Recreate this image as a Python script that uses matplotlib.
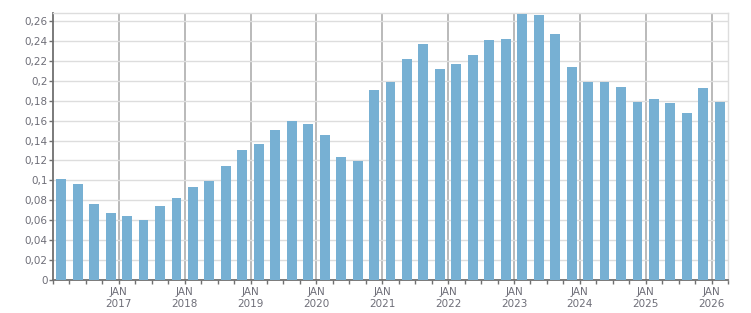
import matplotlib
matplotlib.use("Agg")
import matplotlib.pyplot as plt
import numpy as np
from matplotlib.ticker import FuncFormatter, MultipleLocator

# quarterly values, Q1 2016 .. Q1 2026
quarters = ["{}Q{}".format(y, q) for y in range(2016, 2027) for q in range(1, 5)][:41]
values = [0.101, 0.096, 0.076, 0.067, 0.064, 0.060, 0.074, 0.082,
          0.093, 0.099, 0.114, 0.130, 0.137, 0.151, 0.160, 0.157,
          0.146, 0.123, 0.119, 0.191, 0.199, 0.222, 0.237, 0.212,
          0.217, 0.226, 0.241, 0.242, 0.267, 0.266, 0.247, 0.214,
          0.199, 0.199, 0.194, 0.179, 0.182, 0.178, 0.168, 0.193,
          0.179]
years = list(range(2017, 2027))
yticks = [i * 0.02 for i in range(14)]

text_col = "#6e6e78"
bar_col = "#77b0d3"

fig = plt.figure(figsize=(7.51, 3.13), dpi=100)
ax = fig.add_axes([53 / 751, 1 - 280 / 313, (728 - 53) / 751, (280 - 13) / 313])

x = np.arange(len(values)) + 0.5
ax.bar(x, values, width=0.6, color=bar_col, zorder=3)

ax.set_xlim(0, len(values))
ax.set_ylim(0, 0.268)

ax.set_yticks(yticks)
ax.yaxis.set_major_formatter(FuncFormatter(
    lambda v, p: "0" if abs(v) < 1e-9 else ("%.2f" % v).rstrip("0").replace(".", ",")))

major = [4 * (y - 2016) for y in years]
ax.set_xticks(major)
ax.set_xticklabels(["JAN\n{}".format(y) for y in years])
ax.xaxis.set_minor_locator(MultipleLocator(1))

ax.grid(axis="y", color="#dddddd", lw=1, zorder=0)
ax.grid(axis="x", which="major", color="#b4b4b4", lw=1.3, zorder=0)

for s in ["top", "right"]:
    ax.spines[s].set_color("#dddddd")
    ax.spines[s].set_linewidth(1)
for s in ["left", "bottom"]:
    ax.spines[s].set_color("#707070")
    ax.spines[s].set_linewidth(1.3)

ax.tick_params(axis="both", which="both", colors="#707070", labelcolor=text_col,
               labelsize=7.5, length=3, width=1)
ax.tick_params(axis="x", which="major", pad=2)
ax.tick_params(axis="y", pad=1)
for lab in ax.get_xticklabels():
    lab.set_linespacing(1.3)

fig.savefig("out.png", dpi=100)
